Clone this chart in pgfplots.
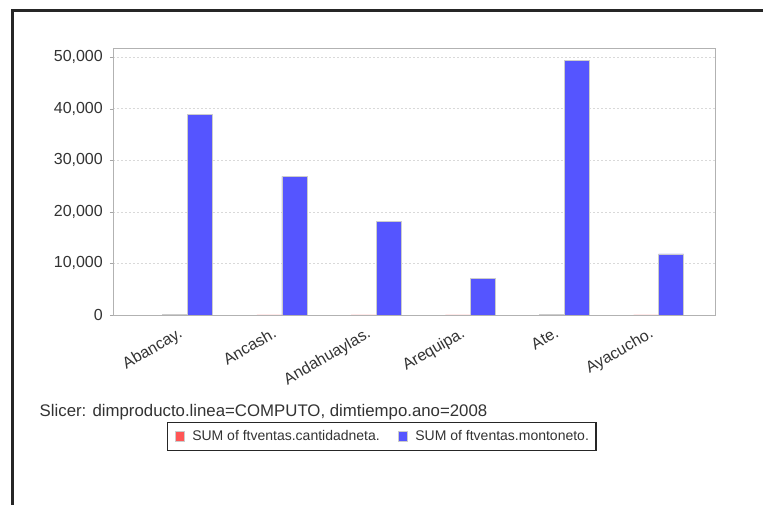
\documentclass[border=0pt]{standalone}
\usepackage{fontspec}
\setmainfont{Liberation Sans}
\usepackage{pgfplots}
\pgfplotsset{compat=1.18}
\definecolor{barblue}{RGB}{85,85,255}
\definecolor{barred}{RGB}{255,85,85}
\definecolor{txt}{RGB}{51,51,51}
\begin{document}
\begin{tikzpicture}
\fill[white] (-113pt,-190pt) rectangle (650pt,315pt);
\path[use as bounding box] (-113pt,-190pt) rectangle (650pt,315pt);
\draw[line width=3pt, black!85] (-100.5pt,-190pt) -- (-100.5pt,304pt) -- (650pt,304pt);
\begin{axis}[
  at={(0pt,0pt)}, anchor=south west,
  scale only axis, width=602pt, height=267pt,
  xmin=-0.793, xmax=5.598, ymin=0, ymax=51750,
  ybar=0pt, bar width=25pt,
  axis line style={draw=gray!60},
  xtick={0,1,2,3,4,5},
  xticklabels={Abancay.,Ancash.,Andahuaylas.,Arequipa.,Ate.,Ayacucho.},
  xtick style={draw=none},
  ytick={0,10000,20000,30000,40000,50000},
  ytick pos=left, tick align=outside, major tick length=3pt,
  ytick style={draw=gray!70},
  ymajorgrids, major grid style={draw=gray!30, dash pattern=on 2pt off 2pt},
  scaled y ticks=false,
  /pgf/number format/.cd, 1000 sep={,}, assume math mode=true, /pgfplots/.cd,
  tick label style={font=\fontsize{16}{18}\selectfont, text=txt},
  yticklabel style={inner sep=0pt, xshift=-7pt},
  xticklabel style={rotate=30, anchor=north east, inner sep=0pt, yshift=-2pt, xshift=-13pt},
  legend columns=2,
  legend style={at={(axis description cs:0.0897,-0.4007)}, anchor=north west,
    draw=black!85, line width=1.3pt, fill=white,
    font=\fontsize{14}{16}\selectfont, text=txt,
    nodes={inner sep=0pt},
    inner xsep=7pt, inner ysep=8pt,
    /tikz/every odd column/.append style={column sep=7.5pt},
    /tikz/every even column/.append style={column sep=18pt}},
  legend image code/.code={\draw[#1, line width=0.6pt, draw=gray!40] (0pt,-5pt) rectangle (9.5pt,5.5pt);},
]
\addplot[fill=barred, draw=gray!40] coordinates {(0,60) (1,42) (2,28) (3,11) (4,76) (5,18)};
\addplot[fill=barblue, draw=gray!40] coordinates {(0,38880) (1,26850) (2,18110) (3,7120) (4,49290) (5,11840)};
\legend{SUM of ftventas.cantidadneta.,SUM of ftventas.montoneto.}
\end{axis}
\node[anchor=base west, inner sep=0pt, font=\fontsize{16.8}{18}\selectfont, text=txt] at (-73.5pt,-101.5pt) {Slicer: dimproducto.linea=COMPUTO, dimtiempo.ano=2008};
\end{tikzpicture}
\end{document}
